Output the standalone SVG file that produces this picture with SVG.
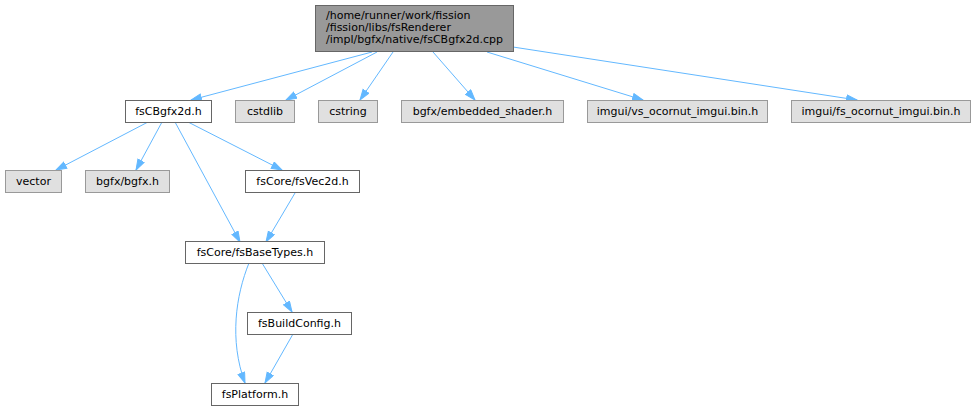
<svg xmlns="http://www.w3.org/2000/svg" width="976" height="411" viewBox="0 0 976 411">
<style>
text{font-family:"DejaVu Sans","Liberation Sans",sans-serif;font-size:11px;fill:#000}
.w rect{fill:#fff;stroke:#666;stroke-width:1}
.g rect{fill:#e0e0e0;stroke:#999;stroke-width:1}
.r rect{fill:#999;stroke:#666;stroke-width:1}
.e path{fill:none;stroke:#63b8ff;stroke-width:1;marker-end:url(#a)}
</style>
<defs>
<marker id="a" markerUnits="userSpaceOnUse" markerWidth="12" markerHeight="9" refX="11" refY="4" orient="auto">
<path d="M0.5,0.5 L11,4 L0.5,7.5 z" fill="#63b8ff" stroke="#63b8ff"/>
</marker>
</defs>
<rect width="976" height="411" fill="#fff"/>
<g class="e" id="edges">
<path d="M372,52 L191,100"/>
<path d="M377,52 L286,100"/>
<path d="M393,52 L360,100"/>
<path d="M433,52 L475,100"/>
<path d="M487,52 L643,100"/>
<path d="M513,47 L857,100"/>
<path d="M148,122 L56,170"/>
<path d="M162,122 L136,170"/>
<path d="M188,122 L282,170"/>
<path d="M175,122 L240,242"/>
<path d="M295,193 L266,242"/>
<path d="M262,263 L292,312"/>
<path d="M249,263 C236,295 229,340 245,383"/>
<path d="M293,334 L265,383"/>
</g>
<g id="root" class="r"><rect x="315.5" y="5.5" width="198" height="46"/>
<text x="326" y="19">/home/runner/work/fission</text>
<text x="326" y="31">/fission/libs/fsRenderer</text>
<text x="326" y="43">/impl/bgfx/native/fsCBgfx2d.cpp</text></g>
<g id="fsCBgfx2d" class="w"><rect x="125.5" y="100.5" width="86" height="22"/><text x="168.5" y="115" text-anchor="middle">fsCBgfx2d.h</text></g>
<g id="cstdlib" class="g"><rect x="235.5" y="100.5" width="59" height="22"/><text x="265" y="115" text-anchor="middle">cstdlib</text></g>
<g id="cstring" class="g"><rect x="318.5" y="100.5" width="59" height="22"/><text x="348" y="115" text-anchor="middle">cstring</text></g>
<g id="embedded_shader" class="g"><rect x="401.5" y="100.5" width="162" height="22"/><text x="482.5" y="115" text-anchor="middle">bgfx/embedded_shader.h</text></g>
<g id="vs_imgui" class="g"><rect x="587.5" y="100.5" width="180" height="22"/><text x="677.5" y="115" text-anchor="middle">imgui/vs_ocornut_imgui.bin.h</text></g>
<g id="fs_imgui" class="g"><rect x="791.5" y="100.5" width="179" height="22"/><text x="881" y="115" text-anchor="middle">imgui/fs_ocornut_imgui.bin.h</text></g>
<g id="vector" class="g"><rect x="5.5" y="170.5" width="56" height="22"/><text x="33.5" y="185" text-anchor="middle">vector</text></g>
<g id="bgfx" class="g"><rect x="85.5" y="170.5" width="84" height="22"/><text x="127.5" y="185" text-anchor="middle">bgfx/bgfx.h</text></g>
<g id="fsVec2d" class="w"><rect x="245.5" y="170.5" width="114" height="22"/><text x="302.5" y="185" text-anchor="middle">fsCore/fsVec2d.h</text></g>
<g id="fsBaseTypes" class="w"><rect x="185.5" y="241.5" width="139" height="22"/><text x="255" y="256" text-anchor="middle">fsCore/fsBaseTypes.h</text></g>
<g id="fsBuildConfig" class="w"><rect x="247.5" y="312.5" width="104" height="22"/><text x="299.5" y="327" text-anchor="middle">fsBuildConfig.h</text></g>
<g id="fsPlatform" class="w"><rect x="211.5" y="383.5" width="87" height="22"/><text x="255" y="398" text-anchor="middle">fsPlatform.h</text></g>
</svg>
